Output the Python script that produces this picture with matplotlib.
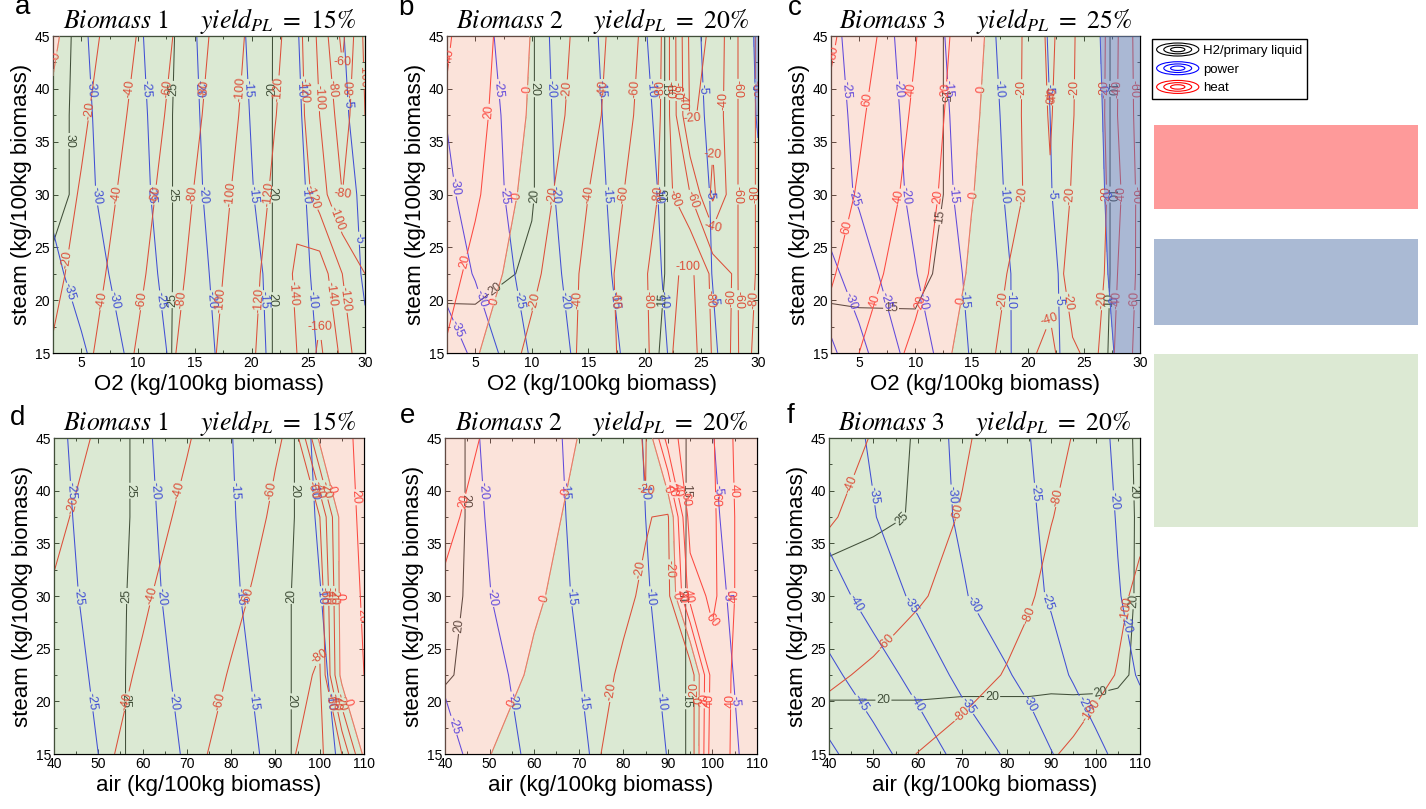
"""
Operating maps for three biomass feeds: H2/primary liquid, power and heat
contours over steam and O2 / air input, with export regions shaded.
"""

import numpy as np
import matplotlib
matplotlib.use("Agg")
import matplotlib.pyplot as plt
from matplotlib.patches import Rectangle, Ellipse
from matplotlib.legend_handler import HandlerBase
from matplotlib.lines import Line2D
from matplotlib.ticker import MultipleLocator

# ── Data ──────────────────────────────────────────────────────────────────────
# grid nodes (kg / 100 kg biomass); field rows run from steam 15 up to 45
STEAM_GRID = [15, 22.5, 30, 37.5, 45]
O2_GRID = [2.5, 5, 10, 15, 20, 22, 24, 26, 28, 30]
AIR_GRID = [40, 50, 60, 70, 80, 85, 90, 95, 100, 105, 110]

# (a) biomass 1, O2 gasification
A_H2 = [[29.0, 28.9, 26.6, 23.9, 21.1, 19.9, 18.9, 17.8, 16.7, 15.5],
        [29.5, 29.3, 26.7, 23.9, 21.1, 19.9, 18.9, 17.8, 16.7, 15.5],
        [30.8, 29.4, 26.7, 23.9, 21.1, 19.9, 18.9, 17.8, 16.7, 15.5],
        [30.8, 29.4, 26.7, 23.9, 21.1, 19.9, 18.9, 17.8, 16.7, 15.5],
        [30.9, 29.5, 26.8, 24.0, 21.2, 19.9, 19.0, 17.9, 16.8, 15.6]]
A_POWER = [[-39.7, -35.8, -28.1, -22.0, -16.4, -14.2, -11.9, -9.7, -7.6, -5.6],
           [-36.3, -32.9, -26.9, -21.4, -15.9, -14.1, -11.3, -9.1, -6.8, -4.6],
           [-33.9, -31.3, -26.2, -20.8, -15.2, -13.1, -10.9, -8.6, -6.4, -4.2],
           [-33.7, -31.0, -25.9, -20.5, -14.8, -12.6, -10.5, -8.1, -5.6, -3.5],
           [-33.3, -30.6, -25.5, -20.2, -14.4, -12.3, -10.2, -7.7, -5.2, -2.8]]
A_HEAT = [[-22, -34, -62, -89, -118, -129, -140, -164, -135, -100],
          [-14, -28, -56, -85, -115, -128, -143, -152, -120, -100],
          [-8, -22, -51, -81, -111, -123, -135, -110, -80, -95],
          [-3, -16, -46, -76, -107, -119, -130, -100, -70, -100],
          [3, -10, -41, -72, -104, -116, -128, -95, -55, -105]]

# (b) biomass 2, O2 gasification
B_H2 = [[19.0, 19.2, 19.5, 17.6, 15.5, 14.7, 13.9, 13.0, 12.2, 11.3],
        [20.6, 20.5, 19.8, 17.8, 15.7, 14.9, 14.0, 13.1, 12.3, 11.4],
        [23.2, 22.2, 20.1, 17.9, 15.7, 14.9, 14.0, 13.1, 12.3, 11.4],
        [23.2, 22.2, 20.1, 17.9, 15.7, 14.9, 14.0, 13.1, 12.3, 11.4],
        [23.2, 22.2, 20.1, 17.9, 15.7, 14.9, 14.0, 13.1, 12.3, 11.4]]
B_POWER = [[-37.8, -33.9, -24.4, -18.0, -12.7, -10.0, -7.7, -5.5, -3.2, -0.9],
           [-33.1, -29.6, -23.0, -17.3, -11.7, -9.4, -7.2, -4.9, -2.7, -0.6],
           [-30.9, -28.0, -22.2, -16.8, -11.2, -9.1, -6.9, -4.7, -2.5, -0.5],
           [-29.8, -27.5, -22.0, -16.4, -10.7, -8.6, -6.5, -4.1, -1.9, 0.2],
           [-29.0, -26.6, -21.8, -16.0, -10.2, -8.1, -6.0, -3.9, -1.7, 0.4]]
B_HEAT = [[18, 2, -25, -44, -76, -97, -110, -78, -55, -90],
          [27, 14, -15, -45, -78, -95, -105, -75, -57, -83],
          [33, 23, -8, -40, -72, -86, -60, -15, -57, -83],
          [38, 27, -3, -32, -67, -86, -18, -25, -57, -83],
          [42, 30, -1, -29, -64, -86, -15, -22, -57, -83]]

# (c) biomass 3, O2 gasification
C_H2 = [[14.0, 14.2, 14.5, 14.0, 12.4, 11.7, 11.0, 10.4, 9.7, 9.0],
        [15.6, 15.6, 15.4, 14.1, 12.5, 11.8, 11.1, 10.4, 9.8, 9.1],
        [18.5, 17.6, 15.9, 14.1, 12.5, 11.8, 11.1, 10.4, 9.8, 9.1],
        [18.5, 17.6, 15.9, 14.1, 12.5, 11.8, 11.1, 10.4, 9.8, 9.1],
        [18.5, 17.6, 15.9, 14.1, 12.5, 11.8, 11.1, 10.4, 9.8, 9.1]]
C_POWER = [[-36.0, -31.5, -22.6, -14.6, -8.1, -6.0, -3.7, -1.6, 0.3, 2.5],
           [-31.2, -27.5, -20.2, -14.0, -8.3, -5.9, -3.4, -1.2, 0.9, 3.0],
           [-27.2, -24.4, -19.0, -13.1, -7.7, -5.2, -2.9, -0.9, 1.2, 3.3],
           [-26.5, -24.0, -18.5, -12.8, -7.3, -5.0, -2.8, -0.7, 1.4, 3.6],
           [-26.0, -23.4, -18.0, -12.3, -7.0, -4.7, -2.5, -0.5, 1.7, 3.9]]
C_HEAT = [[52, 40, 15, -8, -36, -46, -22, -16, -44, -68],
          [62, 50, 27, -3, -30, -32, -12, -6, -40, -65],
          [70, 58, 33, 1, -22, -38, -18, -4, -35, -66],
          [76, 63, 37, 4, -23, -42, -21, -5, -40, -68],
          [83, 69, 41, 7, -23, -45, -22, -4, -39, -70]]

# (d) biomass 1, air gasification
D_H2 = [[27.2, 25.8, 24.5, 23.1, 21.8, 21.1, 20.5, 19.8, 19.1, 18.4, 17.8],
        [27.2, 25.8, 24.5, 23.1, 21.8, 21.1, 20.5, 19.8, 19.1, 18.4, 17.8],
        [27.2, 25.9, 24.5, 23.2, 21.8, 21.2, 20.5, 19.8, 19.2, 18.5, 17.8],
        [27.3, 26.0, 24.6, 23.3, 21.9, 21.3, 20.6, 19.9, 19.2, 18.6, 17.9],
        [27.3, 26.0, 24.6, 23.3, 21.9, 21.3, 20.6, 19.9, 19.2, 18.6, 17.9]]
D_POWER = [[-27.7, -25.0, -22.3, -19.6, -16.9, -15.4, -14.0, -12.6, -11.0, -9.6, -8.2],
           [-27.1, -24.4, -21.7, -19.0, -16.2, -14.8, -13.4, -12.0, -10.5, -9.1, -7.7],
           [-26.5, -23.8, -21.2, -18.4, -15.6, -14.2, -12.8, -11.4, -10.1, -8.7, -7.3],
           [-26.1, -23.5, -20.9, -18.1, -15.3, -13.9, -12.5, -11.1, -9.7, -8.3, -6.9],
           [-25.8, -23.2, -20.6, -17.9, -15.1, -13.7, -12.3, -10.9, -9.4, -8.0, -6.6]]
D_HEAT = [[-27, -36.5, -46, -55.7, -65, -70, -75, -80.5, -84, -60, 5],
          [-24, -33, -42, -51.5, -61, -66, -71, -76, -82, 8, 20],
          [-21.3, -30, -38, -47.5, -56.5, -61, -65.5, -70, -74, 10, 22],
          [-17, -25.5, -34, -43, -52, -57, -62, -67, -60.5, 10, 25],
          [-13, -21.5, -30, -39, -48.6, -53.5, -58.7, -63, 5, 18, 22]]

# (e) biomass 2, air gasification
E_H2 = [[19.0, 19.0, 18.4, 17.4, 16.4, 15.9, 15.4, 14.9, 14.4, 13.9, 13.4],
        [20.15, 19.4, 18.4, 17.4, 16.4, 15.9, 15.4, 14.9, 14.4, 13.9, 13.4],
        [20.4, 19.4, 18.4, 17.4, 16.4, 15.9, 15.4, 14.9, 14.4, 13.9, 13.4],
        [20.45, 19.45, 18.45, 17.45, 16.45, 15.95, 15.45, 14.9, 14.4, 13.9, 13.4],
        [20.45, 19.45, 18.45, 17.45, 16.45, 15.95, 15.45, 14.9, 14.4, 13.9, 13.4]]
E_POWER = [[-26.6, -22.6, -18.9, -15.7, -12.8, -11.4, -9.9, -8.4, -6.9, -5.3, -3.8],
           [-24.4, -21.4, -18.1, -15.1, -12.2, -10.8, -9.4, -7.9, -6.4, -4.9, -3.4],
           [-23.0, -20.1, -17.3, -14.5, -11.7, -10.3, -8.9, -7.5, -5.9, -4.5, -3.0],
           [-22.5, -19.7, -17.0, -14.2, -11.4, -10.0, -8.6, -7.0, -5.5, -4.0, -2.5],
           [-22.1, -19.4, -16.7, -14.0, -11.2, -9.8, -8.3, -6.6, -5.1, -3.6, -2.1]]
E_HEAT = [[8.5, 0.3, -8, -16, -24, -28, -32, -36, 55, 36, 26],
          [14, 8.5, -2.5, -12, -22, -27, -31, -35, 50, 38, 26],
          [18, 11, 2.2, -6.5, -17.5, -22, -26, 48, 65, 40, 25],
          [23, 14, 5.5, -3.5, -15, -19, -22.5, 70, 64, 40, 24],
          [27, 18, 9, -0.3, -10, -22, 50, 72, 62, 38, 22]]

# (f) biomass 3, air gasification
F_H2 = [[18.5, 18.5, 18.5, 18.4, 18.4, 18.4, 18.4, 18.5, 18.7, 19.0, 19.2],
        [20.7, 20.7, 20.7, 20.6, 20.6, 20.6, 20.5, 20.5, 20.4, 20.2, 19.8],
        [24.0, 23.5, 23.0, 22.6, 22.2, 22.0, 21.8, 21.5, 21.2, 20.8, 19.7],
        [26.0, 25.5, 24.8, 24.0, 23.3, 23.0, 22.6, 22.2, 21.8, 21.2, 19.6],
        [27.0, 26.0, 24.8, 24.0, 23.5, 23.0, 22.5, 22.0, 21.5, 21.0, 19.5]]
F_POWER = [[-50.9, -46.8, -42.6, -38.5, -34.4, -32.4, -30.2, -28.2, -26.1, -24.1, -22.0],
           [-46.2, -42.3, -38.4, -33.6, -30.4, -28.7, -26.5, -24.6, -22.7, -21.2, -19.7],
           [-42.0, -38.0, -33.9, -30.4, -27.4, -26.0, -24.6, -23.2, -21.8, -20.2, -18.8],
           [-38.5, -35.2, -32.2, -29.4, -26.8, -25.5, -24.2, -22.9, -21.5, -19.8, -18.5],
           [-37.2, -34.5, -31.8, -29.2, -26.5, -25.1, -23.7, -22.3, -20.9, -19.5, -18.2]]
F_HEAT = [[-67.5, -74, -80.3, -86.5, -92.8, -96, -99, -102, -105, -108, -111],
          [-58, -62, -67.5, -73.5, -81, -85, -89, -93, -97, -100.5, -104],
          [-49, -53.5, -58.5, -65, -74, -78.5, -84, -89, -94, -98, -102],
          [-38.5, -46, -53.5, -61, -70, -74.5, -79.5, -84, -88, -93, -98],
          [-32, -41, -50, -58, -67, -71.5, -76, -80.5, -85, -90, -95]]

PANEL_LETTERS = ["a", "b", "c", "d", "e", "f"]
BIOMASS_NAMES = ["1", "2", "3", "1", "2", "3"]
YIELD_PL = [15, 20, 25, 15, 20, 20]

# ── Style ─────────────────────────────────────────────────────────────────────

W_PX, H_PX = 1426, 809

C_H2_LINE = "#000000"
C_POWER_LINE = "#0000ff"
C_HEAT_LINE = "#ff0000"

# translucent shading laid over the contours
SHADE_ALPHA = 0.4
SHADE_GREEN = "#a5c891"
SHADE_PINK = "#f5b9a3"
SHADE_BLUE = "#6170d6"

H2_LEVELS = np.arange(0, 50, 5)
POWER_LEVELS = np.arange(-60, 30, 5)
HEAT_LEVELS = np.arange(-200, 220, 20)

plt.rcParams.update({
    "font.family": ["Liberation Sans", "DejaVu Sans"],
    "mathtext.fontset": "stix",
    "axes.linewidth": 0.9,
    "contour.negative_linestyle": "solid",
})


def px_box(left, top, right, bottom):
    """Pixel box -> figure-fraction [x0, y0, w, h]."""
    return [left / W_PX, 1 - bottom / H_PX, (right - left) / W_PX, (bottom - top) / H_PX]


AXES_BOXES = [
    px_box(53, 36, 365, 353), px_box(447, 36, 758, 353), px_box(831, 36, 1140, 353),
    px_box(54, 438, 364, 754), px_box(445, 438, 757, 754), px_box(829, 438, 1140, 754),
]
LETTER_POS = [(15, 14), (398, 15), (788, 15), (10, 425), (400, 423), (787, 423)]


# ── Helpers ───────────────────────────────────────────────────────────────────

def label_points(cs, ax, spacing=105.0, min_len=30.0):
    """A few evenly spaced points along every contour segment (display space)."""
    pts = []
    trans = ax.transData
    for segs in cs.allsegs:
        for seg in segs:
            if len(seg) < 2:
                continue
            disp = trans.transform(seg)
            d = np.r_[0, np.cumsum(np.hypot(*np.diff(disp, axis=0).T))]
            total = d[-1]
            if total < min_len:
                continue
            n = max(1, int(total // spacing))
            for k in range(n):
                t = (k + 0.5) * total / n
                i = int(np.clip(np.searchsorted(d, t), 1, len(d) - 1))
                f = (t - d[i - 1]) / (d[i] - d[i - 1]) if d[i] > d[i - 1] else 0.0
                pts.append(tuple(seg[i - 1] + f * (seg[i] - seg[i - 1])))
    return pts


def draw_panel(ax, xgrid, h2, power, heat, xlabel, title):
    x = np.asarray(xgrid, float)
    y = np.asarray(STEAM_GRID, float)
    h2, power, heat = (np.asarray(v, float) for v in (h2, power, heat))

    ax.set_xlim(x[0], x[-1])
    ax.set_ylim(y[0], y[-1])

    for field, levels, colour in ((h2, H2_LEVELS, C_H2_LINE),
                                  (power, POWER_LEVELS, C_POWER_LINE),
                                  (heat, HEAT_LEVELS, C_HEAT_LINE)):
        cs = ax.contour(x, y, field, levels=levels, colors=colour,
                        linewidths=0.75, zorder=2)
        pts = label_points(cs, ax)
        if pts:
            ax.clabel(cs, manual=pts, inline=True, fmt="%d",
                      fontsize=9, inline_spacing=1)

    # export regions: heat > 0 pink, power > 0 blue, otherwise green
    ax.contourf(x, y, heat, levels=[-1e4, 0, 1e4],
                colors=[SHADE_GREEN, SHADE_PINK], alpha=SHADE_ALPHA, zorder=5)
    if power.max() > 0:
        ax.contourf(x, y, power, levels=[0, 1e4],
                    colors=[SHADE_BLUE], alpha=SHADE_ALPHA, zorder=5)

    ax.yaxis.set_major_locator(MultipleLocator(5))
    ax.yaxis.set_minor_locator(MultipleLocator(2.5))
    step = 5 if x[-1] <= 30 else 10
    ax.xaxis.set_major_locator(MultipleLocator(step))
    ax.xaxis.set_minor_locator(MultipleLocator(step / 2))
    ax.tick_params(which="both", direction="in", top=True, right=True,
                   width=0.7, labelsize=10, pad=2)
    ax.tick_params(which="major", length=3.5)
    ax.tick_params(which="minor", length=2)

    ax.set_xlabel(xlabel, fontsize=16, labelpad=3)
    ax.set_ylabel("steam (kg/100kg biomass)", fontsize=16, labelpad=2)
    ax.set_title(title, fontsize=18.5, pad=-4)


class ContourIconHandler(HandlerBase):
    """Legend icon drawn as nested ellipses in the handle's colour."""

    def create_artists(self, legend, orig_handle, xdescent, ydescent,
                       width, height, fontsize, trans):
        cx = 0.5 * width - xdescent
        cy = 0.5 * height - ydescent
        arts = []
        for s in (1.0, 0.66, 0.34):
            arts.append(Ellipse((cx, cy), width * s, height * 1.1 * s,
                                fill=False, lw=0.8,
                                edgecolor=orig_handle.get_color(),
                                transform=trans))
        return arts


# ── Figure ────────────────────────────────────────────────────────────────────

def main():
    fig = plt.figure(figsize=(W_PX / 100, H_PX / 100), dpi=100)

    panels = [
        (O2_GRID, A_H2, A_POWER, A_HEAT, "O2 (kg/100kg biomass)"),
        (O2_GRID, B_H2, B_POWER, B_HEAT, "O2 (kg/100kg biomass)"),
        (O2_GRID, C_H2, C_POWER, C_HEAT, "O2 (kg/100kg biomass)"),
        (AIR_GRID, D_H2, D_POWER, D_HEAT, "air (kg/100kg biomass)"),
        (AIR_GRID, E_H2, E_POWER, E_HEAT, "air (kg/100kg biomass)"),
        (AIR_GRID, F_H2, F_POWER, F_HEAT, "air (kg/100kg biomass)"),
    ]

    for i, (xg, h2, pw, ht, xlabel) in enumerate(panels):
        ax = fig.add_axes(AXES_BOXES[i])
        title = (r"$Biomass\ " + BIOMASS_NAMES[i] + r"\quad\ \ yield_{PL}\ =\ "
                 + str(YIELD_PL[i]) + r"\%$")
        draw_panel(ax, xg, h2, pw, ht, xlabel, title)
        lx, ly = LETTER_POS[i]
        fig.text(lx / W_PX, 1 - ly / H_PX, PANEL_LETTERS[i],
                 fontsize=20, va="baseline", ha="left")

    # legend for the three contour families
    handles = [Line2D([], [], color=C_H2_LINE),
               Line2D([], [], color=C_POWER_LINE),
               Line2D([], [], color=C_HEAT_LINE)]
    leg = fig.legend(handles, ["H2/primary liquid", "power", "heat"],
                     handler_map={Line2D: ContourIconHandler()},
                     loc="upper left", bbox_to_anchor=(1152 / W_PX, 1 - 39 / H_PX),
                     borderaxespad=0, fontsize=9.5, frameon=True, fancybox=False,
                     edgecolor="black", framealpha=1, handlelength=3.2,
                     handleheight=1.0, handletextpad=0.3, labelspacing=0.4,
                     borderpad=0.35)
    leg.get_frame().set_linewidth(1.0)

    # colour key blocks for the shaded regions
    for (top, bottom), colour in (((125, 209), "#fe9a9a"),
                                  ((239, 325), "#aabad4"),
                                  ((354, 527), "#dce9d3")):
        fig.add_artist(Rectangle((1154 / W_PX, 1 - bottom / H_PX),
                                 (1418 - 1154) / W_PX, (bottom - top) / H_PX,
                                 transform=fig.transFigure,
                                 facecolor=colour, edgecolor="none"))

    fig.savefig("out.png", dpi=100)
    plt.close(fig)


if __name__ == "__main__":
    main()
